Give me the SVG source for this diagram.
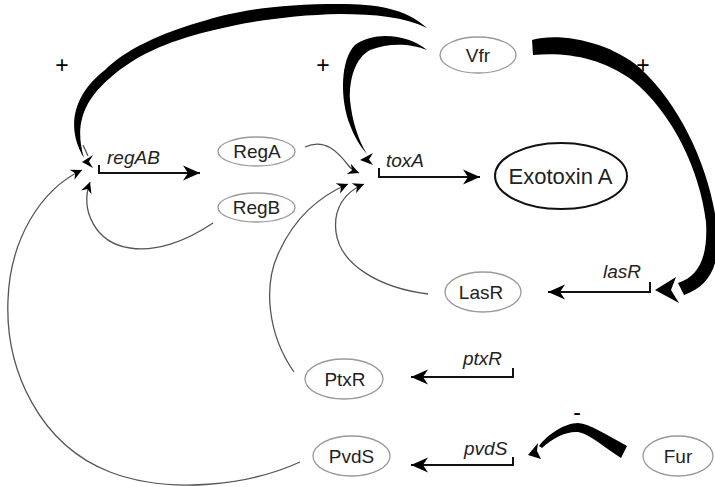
<svg xmlns="http://www.w3.org/2000/svg" width="715" height="487" viewBox="0 0 715 487">
  <style>
    .node { fill: #fff; stroke: #999; stroke-width: 1.3; }
    .prod { fill: #fff; stroke: #111; stroke-width: 2; }
    .lbl { font-family: "Liberation Sans", Arial, sans-serif; font-size: 19px; fill: #222; text-anchor: middle; }
    .big { font-size: 22px; }
    .gene { font-family: "Liberation Sans", Arial, sans-serif; font-size: 19px; font-style: italic; fill: #222; }
    .sign { font-family: "Liberation Sans", Arial, sans-serif; font-size: 23px; fill: #000; text-anchor: middle; }
    .thin { fill: none; stroke: #555; stroke-width: 1.3; }
    .prom { fill: none; stroke: #111; stroke-width: 2; }
    .solid { fill: #000; stroke: none; }
  </style>
  <defs>
    <marker id="tip" viewBox="-12 -6 13 12" refX="0" refY="0" markerWidth="13" markerHeight="12" markerUnits="userSpaceOnUse" orient="auto">
      <path d="M0,0 L-11,-5.5 L-7.5,0 L-11,5.5 Z" fill="#000"/>
    </marker>
    <marker id="big" viewBox="-18 -8 19 16" refX="0" refY="0" markerWidth="19" markerHeight="16" markerUnits="userSpaceOnUse" orient="auto">
      <path d="M0,0 L-17,-7.5 L-12,0 L-17,7.5 Z" fill="#000"/>
    </marker>
  </defs>

  <!-- connectors -->
  <g id="connectors">
    <!-- Vfr activation arcs (tapered) -->
    <path class="solid" d="M427,28 C405,8 375,4 340,4 C280,4 240,10 207,20 C160,33 125,50 105,70 C76,92 64,125 84,158 C74,125 84,100 110,78 C135,56 165,42 210,31 C245,22 290,15 340,14 C375,14 405,17 427,28 Z"/>
    <path class="thin" d="M83,145 L88,156"/>
    <path class="solid" d="M82,162 L93,155 L89,161.5 L93,168 Z"/>

    <path class="solid" d="M427,50 C410,35 375,30 355,45 C340,60 340,100 350,125 C355,138 360,146 367,154 C358,140 352,120 350,100 C349,80 355,58 370,50 C390,42 412,44 427,50 Z"/>
    <path class="solid" d="M360,160 L373,153 L369,159.5 L373,165 Z"/>

    <path class="solid" d="M532,40 C560,32 610,42 640,68 C680,105 708,165 716,220 C722,262 712,285 684,295 L678,283 C700,276 708,255 706,222 C700,170 672,112 632,80 C600,57 565,52 533,55 Z"/>
    <path class="solid" d="M655,290 L676,277 L671,290 L679,303 Z"/>

    <!-- Fur repression -->
    <path class="solid" d="M627,446 C605,434 590,424 578,423 C565,423 548,434 539,446 L542,448 C552,438 567,431 578,432 C590,434 605,448 621,458 Z"/>
    <path class="solid" d="M528,455 L538,443 L537,451 L541,459 Z"/>

    <!-- promoter arrows -->
    <path class="prom" d="M99,165 L99,173 L200,173" marker-end="url(#big)"/>
    <path class="prom" d="M379,168 L379,177 L480,177" marker-end="url(#big)"/>
    <path class="prom" d="M650,282 L650,292 L548,292" marker-end="url(#big)"/>
    <path class="prom" d="M513,368 L513,377 L411,377" marker-end="url(#big)"/>
    <path class="prom" d="M513,457 L513,465 L411,465" marker-end="url(#big)"/>

    <!-- thin regulatory links -->
    <path class="thin" d="M305,147 C325,138 338,152 348,165 C351,169 354,171 359,173" marker-end="url(#tip)"/>
    <path class="thin" d="M294,372 C268,335 262,285 280,250 C295,218 320,196 348,184" marker-end="url(#tip)"/>
    <path class="thin" d="M428,294 C380,288 340,265 336,232 C333,208 345,192 364,184" marker-end="url(#tip)"/>
    <path class="thin" d="M213,223 C185,242 155,252 130,248 C95,243 80,210 90,182" marker-end="url(#tip)"/>
    <path class="thin" d="M300,462 C250,485 170,495 110,472 C40,445 5,370 8,300 C10,240 40,190 82,170" marker-end="url(#tip)"/>
  </g>

  <!-- signs -->
  <text class="sign" x="62" y="73">+</text>
  <text class="sign" x="323" y="73">+</text>
  <text class="sign" x="643" y="73">+</text>
  <text class="sign" x="577" y="420">-</text>

  <!-- gene labels -->
  <text class="gene" x="107" y="164">regAB</text>
  <text class="gene" x="386" y="167">toxA</text>
  <text class="gene" x="603" y="278">lasR</text>
  <text class="gene" x="463" y="365">ptxR</text>
  <text class="gene" x="464" y="455">pvdS</text>

  <!-- nodes -->
  <g id="vfr"><ellipse class="node" cx="478" cy="55" rx="38" ry="18"/><text class="lbl" x="478" y="62">Vfr</text></g>
  <g id="rega"><ellipse class="node" cx="256.5" cy="151.5" rx="38.5" ry="14.5"/><text class="lbl" x="257" y="158">RegA</text></g>
  <g id="regb"><ellipse class="node" cx="256.5" cy="207.5" rx="38.5" ry="14.5"/><text class="lbl" x="256.5" y="214">RegB</text></g>
  <g id="exotoxin"><ellipse class="prod" cx="561" cy="176" rx="66" ry="33"/><text class="lbl big" x="560.5" y="184">Exotoxin A</text></g>
  <g id="lasr"><ellipse class="node" cx="483" cy="292" rx="38" ry="20"/><text class="lbl" x="481" y="299">LasR</text></g>
  <g id="ptxr"><ellipse class="node" cx="344" cy="379" rx="39" ry="20"/><text class="lbl" x="345" y="386">PtxR</text></g>
  <g id="pvds"><ellipse class="node" cx="351.5" cy="456" rx="38.5" ry="20"/><text class="lbl" x="351.5" y="463">PvdS</text></g>
  <g id="fur"><ellipse class="node" cx="678" cy="456" rx="35" ry="20"/><text class="lbl" x="678" y="463">Fur</text></g>
</svg>
